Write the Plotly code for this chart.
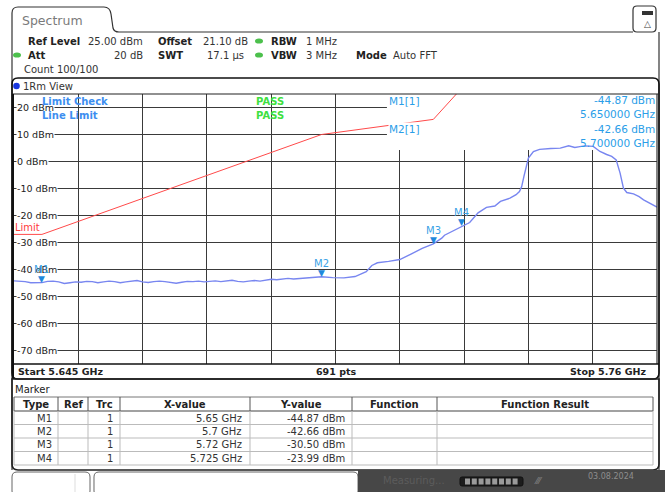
import plotly.graph_objects as go

W, H = 665, 492

# ---------------- data ----------------
trace_freq_ghz = [
    5.645, 5.646, 5.647, 5.648, 5.649, 5.650, 5.651, 5.652, 5.653, 5.654,
    5.655, 5.656, 5.657, 5.658, 5.659, 5.660, 5.661, 5.662, 5.663, 5.664,
    5.665, 5.666, 5.667, 5.668, 5.669, 5.670, 5.671, 5.672, 5.673, 5.674,
    5.675, 5.676, 5.677, 5.678, 5.679, 5.680, 5.681, 5.682, 5.683, 5.684,
    5.685, 5.686, 5.687, 5.688, 5.689, 5.690, 5.691, 5.692, 5.693, 5.694,
    5.695, 5.696, 5.697, 5.698, 5.699, 5.700, 5.702, 5.704, 5.706, 5.708,
    5.709, 5.710, 5.712, 5.714, 5.716, 5.718, 5.720, 5.7215, 5.722, 5.723,
    5.724, 5.725, 5.7265, 5.728, 5.7295, 5.731, 5.732, 5.7337, 5.7348, 5.7354,
    5.7358, 5.7362, 5.7366, 5.737, 5.7379, 5.739, 5.741, 5.7427, 5.7442, 5.7453,
    5.7462, 5.7471, 5.7486, 5.7498, 5.751, 5.7519, 5.7527, 5.7534, 5.754, 5.7546,
    5.7558, 5.7568, 5.7576, 5.760,
]
trace_level_dbm = [
    -44.2, -44.3, -44.5, -44.9, -45.0, -44.87, -44.4, -44.3, -44.6, -45.2,
    -44.9, -44.6, -44.7, -44.4, -44.5, -44.9, -44.6, -44.3, -44.5, -44.9,
    -44.6, -44.4, -44.1, -44.6, -44.8, -44.5, -44.3, -44.5, -44.9, -45.1,
    -44.7, -44.4, -44.5, -44.3, -44.6, -44.4, -44.2, -44.5, -44.3, -44.0,
    -44.4, -44.6, -44.3, -44.1, -44.3, -43.9, -43.6, -43.8, -43.6, -43.3,
    -43.5, -43.3, -43.0, -42.9, -42.7, -42.66, -43.0, -43.1, -42.6, -40.8,
    -38.5, -37.5, -37.0, -36.3, -34.3, -32.2, -30.50, -28.4, -27.3, -26.2,
    -25.2, -23.99, -22.6, -19.0, -17.0, -16.5, -14.8, -13.6, -12.3, -11.1,
    -9.3, -5.5, -1.5, 1.3, 3.7, 4.5, 4.8, 4.95, 5.8, 5.2,
    5.5, 5.8, 5.6, 3.7, 2.6, 1.9, 0.6, -4.3, -9.9, -11.5,
    -12.0, -13.0, -14.2, -16.9,
]
limit_freq_ghz = [5.645, 5.650, 5.700, 5.720, 5.725]
limit_level_dbm = [-27.0, -27.0, 10.0, 15.6, 27.0]

marker_names = ["M1", "M2", "M3", "M4"]
marker_freq_ghz = [5.650, 5.700, 5.720, 5.725]
marker_level_dbm = [-44.87, -42.66, -30.50, -23.99]
marker_trc = ["1", "1", "1", "1"]

y_tick_dbm = [20, 10, 0, -10, -20, -30, -40, -50, -60, -70]
freq_start_ghz = 5.645
freq_stop_ghz = 5.76
ref_level_dbm = 25.0
n_points = 691

# ---------------- helpers ----------------
def X(px):
    return px / W


def Y(py):
    return 1 - py / H


shapes = []
annos = []


def line(x0, y0, x1, y1, color="#222", width=1):
    shapes.append(dict(type="line", xref="paper", yref="paper",
                       x0=X(x0), y0=Y(y0), x1=X(x1), y1=Y(y1),
                       line=dict(color=color, width=width), layer="above"))


def rect(x0, y0, x1, y1, fill="rgba(0,0,0,0)", color=None, width=1):
    shapes.append(dict(type="rect", xref="paper", yref="paper",
                       x0=X(x0), y0=Y(y0), x1=X(x1), y1=Y(y1),
                       fillcolor=fill,
                       line=dict(color=color or "rgba(0,0,0,0)", width=width if color else 0),
                       layer="above"))


def rpath(x0, y0, x1, y1, r, fill="rgba(0,0,0,0)", color="#222", width=1,
          tl=True, tr=True, br=True, bl=True):
    def p(x, y):
        return f"{X(x):.5f},{Y(y):.5f}"
    s = f"M{p(x0 + (r if tl else 0), y0)} L{p(x1 - (r if tr else 0), y0)}"
    if tr:
        s += f" Q{p(x1, y0)} {p(x1, y0 + r)}"
    s += f" L{p(x1, y1 - (r if br else 0))}"
    if br:
        s += f" Q{p(x1, y1)} {p(x1 - r, y1)}"
    s += f" L{p(x0 + (r if bl else 0), y1)}"
    if bl:
        s += f" Q{p(x0, y1)} {p(x0, y1 - r)}"
    s += f" L{p(x0, y0 + (r if tl else 0))}"
    if tl:
        s += f" Q{p(x0, y0)} {p(x0 + r, y0)}"
    s += " Z"
    shapes.append(dict(type="path", xref="paper", yref="paper", path=s,
                       fillcolor=fill, line=dict(color=color, width=width), layer="above"))


def text(px, py, s, size=10, color="#222", bold=False, anchor="left", bg=None,
         family="DejaVu Sans"):
    a = dict(xref="paper", yref="paper", x=X(px), y=Y(py),
             text=f"<b>{s}</b>" if bold else s, showarrow=False,
             xanchor=anchor, yanchor="middle",
             font=dict(size=size, color=color, family=family), borderpad=0)
    if bg:
        a["bgcolor"] = bg
    annos.append(a)


def dot(cx, cy, rx, ry, color):
    shapes.append(dict(type="circle", xref="paper", yref="paper",
                       x0=X(cx - rx), x1=X(cx + rx), y0=Y(cy + ry), y1=Y(cy - ry),
                       fillcolor=color, line=dict(width=0), layer="above"))


# ---------------- chrome: tab + header ----------------
GREEN = "#4cc04c"
shapes.append(dict(type="path", xref="paper", yref="paper",
                   path=(f"M{X(12):.5f},{Y(32):.5f} L{X(12):.5f},{Y(13):.5f} "
                         f"Q{X(12):.5f},{Y(7):.5f} {X(18):.5f},{Y(7):.5f} "
                         f"L{X(104):.5f},{Y(7):.5f} Q{X(110):.5f},{Y(7):.5f} {X(111):.5f},{Y(14):.5f} "
                         f"L{X(113):.5f},{Y(28):.5f} Q{X(114):.5f},{Y(32):.5f} {X(119):.5f},{Y(32):.5f} "
                         f"L{X(633):.5f},{Y(32):.5f}"),
                   line=dict(color="#333", width=1.2), layer="above"))
text(21, 20, "Spectrum", size=12.5, color="#7a7a7a")
rpath(633, 6, 656, 32, 4, fill="white", color="#333", width=1.2)
rect(642, 11, 653, 15, fill="#333")
text(647.5, 24, "△", size=9, color="#444", anchor="center")
line(12, 32, 12, 470, color="#333", width=1.2)
line(659, 32, 659, 470, color="#333", width=1.2)

text(27, 41, "Ref Level", bold=True)
text(87, 41, "25.00 dBm", color="#333")
text(157, 41, "Offset", bold=True)
text(202, 41, "21.10 dB", color="#333")
dot(259, 41, 4, 2.6, GREEN)
text(270, 41, "RBW", bold=True)
text(305, 41, "1 MHz", color="#333")

dot(17, 55, 4, 2.6, GREEN)
text(27, 55, "Att", bold=True)
text(144, 55, "20 dB", color="#333", anchor="right")
text(157, 55, "SWT", bold=True)
text(245, 55, "17.1 µs", color="#333", anchor="right")
dot(259, 55, 4, 2.6, GREEN)
text(270, 55, "VBW", bold=True)
text(305, 55, "3 MHz", color="#333")
text(355, 55, "Mode", bold=True)
text(392, 55, "Auto FFT", color="#333")

text(23, 69, "Count 100/100", color="#333")

# ---------------- plot frame ----------------
rpath(12, 78, 659, 379, 6, color="#111", width=1.6)
line(12, 94, 659, 94, color="#222", width=1.2)
dot(16.5, 86, 3.3, 3.3, "#1836e0")
text(22, 86, "1Rm View", size=10, color="#333")
line(13, 94, 13, 379, color="#111", width=2)
line(657, 94, 657, 364, color="#333", width=1.2)
line(12, 364, 659, 364, color="#111", width=1.5)

text(17, 371, f"Start {freq_start_ghz:g} GHz", bold=True, size=9.5)
text(336, 371, f"{n_points} pts", bold=True, size=9.5, anchor="center")
text(648, 371, f"Stop {freq_stop_ghz:g} GHz", bold=True, size=9.5, anchor="right")

# ---------------- marker table ----------------
rpath(12, 379, 659, 470, 6, color="#222", width=1.6, tl=False, tr=False)
text(14, 389, "Marker", size=10, color="#222")
col_edges = [14, 58, 88, 120, 250, 352, 437, 653]
col_heads = ["Type", "Ref", "Trc", "X-value", "Y-value", "Function", "Function Result"]
row_y = [418, 431, 444.5, 458]
row_lines = [411, 424.5, 438, 451.5, 465]
line(14, 397, 653, 397, color="#777", width=1)
for yl in row_lines:
    line(14, yl, 653, yl, color="#444" if yl == 411 else "#bbb", width=1.2 if yl == 411 else 1)
for i, xe in enumerate(col_edges):
    line(xe, 397, xe, 411, color="#555", width=1)
    line(xe, 411, xe, 465, color="#bbb", width=1)
for i, h in enumerate(col_heads):
    text((col_edges[i] + col_edges[i + 1]) / 2, 404, h, bold=True, anchor="center")
for i, name in enumerate(marker_names):
    yy = row_y[i]
    text(53, yy, name, color="#333", anchor="right")
    text(114, yy, marker_trc[i], color="#333", anchor="right")
    text(243, yy, f"{marker_freq_ghz[i]:g} GHz", color="#333", anchor="right")
    text(346, yy, f"{marker_level_dbm[i]:.2f} dBm", color="#333", anchor="right")

# ---------------- status bar ----------------
rpath(12, 472, 90, 496, 5, fill="white", color="#666", width=1)
line(75, 474, 75, 492, color="#ddd", width=1)
rpath(94, 472, 358, 496, 5, fill="white", color="#666", width=1)
rect(358, 470, 665, 492, fill="#474747")
text(382, 480, "Measuring...", size=10, color="#5c5c5c")
rpath(460, 477, 523, 486, 2, fill="#1c1c1c", color="#111", width=1)
for k in range(8):
    rect(465 + k * 6.8, 478.5, 470 + k * 6.8, 484.5, fill="#9a9a9a")
text(538, 481, "⁄⁄⁄", size=9, color="#888", anchor="center")
text(611, 476, "03.08.2024", size=8, color="#8e8e8e", anchor="center")

# ---------------- plot-area overlay box (covers grid, under traces) ----------------
shapes.append(dict(type="rect", xref="x", yref="y", x0=5.7117, x1=freq_stop_ghz,
                   y0=4.3, y1=ref_level_dbm, fillcolor="white", line=dict(width=0),
                   layer="between"))

for v in y_tick_dbm:
    annos.append(dict(xref="paper", yref="y", x=X(16), y=v, text=f"{v} dBm",
                      showarrow=False, xanchor="left", yanchor="middle",
                      font=dict(size=9.5, color="#222", family="DejaVu Sans"),
                      bgcolor="white", borderpad=0))

text(14, 228, "Limit", size=10, color="#ff3b3b")
text(41, 101, "Limit Check", size=10, color="#3d8ef0", bold=True)
text(41, 115, "Line Limit", size=10, color="#3d8ef0", bold=True)
text(255, 101, "PASS", size=10, color="#3fe03f", bold=True)
text(255, 115, "PASS", size=10, color="#3fe03f", bold=True)

MC = "#2a9ee8"
text(388, 101, "M1[1]", size=10.5, color=MC)
text(388, 129, "M2[1]", size=10.5, color=MC, bg="white")
text(656, 100, f"{marker_level_dbm[0]:.2f} dBm", size=10.5, color=MC, anchor="right")
text(656, 114.5, f"{marker_freq_ghz[0]:.6f} GHz", size=10.5, color=MC, anchor="right")
text(656, 129, f"{marker_level_dbm[1]:.2f} dBm", size=10.5, color=MC, anchor="right")
text(656, 143, f"{marker_freq_ghz[1]:.6f} GHz", size=10.5, color=MC, anchor="right")

for name, f, v in zip(marker_names, marker_freq_ghz, marker_level_dbm):
    annos.append(dict(xref="x", yref="y", x=f, y=v, text="▼", showarrow=False,
                      xanchor="center", yanchor="bottom", yshift=-3,
                      font=dict(size=9, color="#1f88dc", family="DejaVu Sans")))
    annos.append(dict(xref="x", yref="y", x=f, y=v, text=name, showarrow=False,
                      xanchor="center", yanchor="bottom", yshift=6,
                      font=dict(size=10, color="#3aa2e6", family="DejaVu Sans")))

# ---------------- figure ----------------
fig = go.Figure()
fig.add_trace(go.Scatter(x=limit_freq_ghz, y=limit_level_dbm, mode="lines",
                         line=dict(color="#ff4a4a", width=1), hoverinfo="skip",
                         showlegend=False))
fig.add_trace(go.Scatter(x=trace_freq_ghz, y=trace_level_dbm, mode="lines",
                         line=dict(color="#7886f0", width=1.4), hoverinfo="skip",
                         showlegend=False))

fig.update_layout(
    width=W, height=H, autosize=False,
    margin=dict(l=0, r=0, t=0, b=0, pad=0),
    paper_bgcolor="white", plot_bgcolor="white",
    shapes=shapes, annotations=annos,
    font=dict(family="DejaVu Sans", size=10, color="#222"),
    xaxis=dict(domain=[X(14), X(657)], range=[freq_start_ghz, freq_stop_ghz],
               showticklabels=False, ticks="", showgrid=True, gridcolor="#3a3a3a",
               gridwidth=1, tick0=freq_start_ghz, dtick=(freq_stop_ghz - freq_start_ghz) / 10,
               zeroline=False, showline=False, fixedrange=True),
    yaxis=dict(domain=[Y(364), Y(94)], range=[ref_level_dbm - 100, ref_level_dbm],
               showticklabels=False, ticks="", showgrid=True, gridcolor="#3a3a3a",
               gridwidth=1, tick0=-70, dtick=10, zeroline=False, showline=False,
               fixedrange=True),
)

fig.write_html("out.html", config={"displayModeBar": False},
               post_script="document.body.style.margin='0';document.body.style.padding='0';")
